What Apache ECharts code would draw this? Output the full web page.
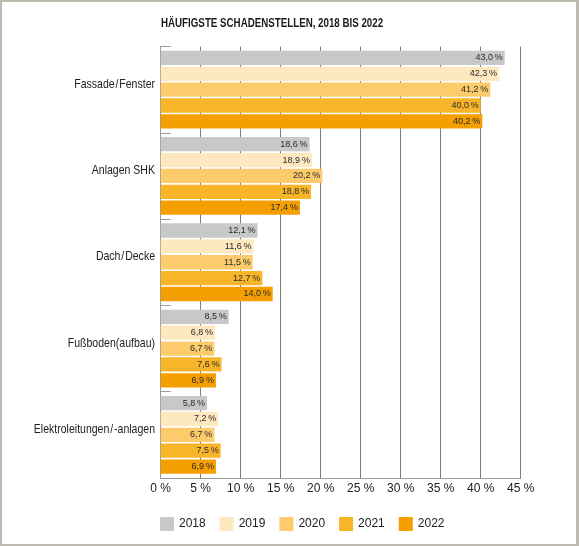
<!DOCTYPE html>
<html lang="de">
<head>
    <meta charset="UTF-8">
    <title>Häufigste Schadenstellen</title>
    <script src="https://cdn.jsdelivr.net/npm/echarts@6/dist/echarts.min.js"></script>
    <style>
        html, body { margin: 0; padding: 0; background: #fff; }
        #chart { position: absolute; left: 0; top: 0; width: 579px; height: 546px; }
        #frame {
            position: absolute; left: 0; top: 0; width: 579px; height: 546px;
            box-sizing: border-box; border: 2px solid #bcbaae; border-right-width: 3px;
            pointer-events: none;
        }
    </style>
</head>
<body>
<div id="chart"></div>
<div id="frame"></div>

<script>
    // Daten
    var categories = ['Fassade\u200a/\u200aFenster', 'Anlagen SHK', 'Dach\u200a/\u200aDecke', 'Fußboden(aufbau)', 'Elektroleitungen\u200a/\u200a-anlagen'];
    var years = ['2018', '2019', '2020', '2021', '2022'];
    var v2018 = [43.0, 18.6, 12.1, 8.5, 5.8];
    var v2019 = [42.3, 18.9, 11.6, 6.8, 7.2];
    var v2020 = [41.2, 20.2, 11.5, 6.7, 6.7];
    var v2021 = [40.0, 18.8, 12.7, 7.6, 7.5];
    var v2022 = [40.2, 17.4, 14.0, 6.9, 6.9];
    var xTicks = [0, 5, 10, 15, 20, 25, 30, 35, 40, 45];
    var titleText = 'HÄUFIGSTE SCHADENSTELLEN, 2018 BIS 2022';

    var values = [v2018, v2019, v2020, v2021, v2022];
    var colors = ['#c8c8ca', '#fde8c0', '#fccb6c', '#f8b529', '#f49e00'];
    var font = '"Liberation Sans", Arial, sans-serif';

    var series = years.map(function (y, i) {
        return {
            name: y,
            type: 'bar',
            data: values[i],
            barWidth: 14.3,
            barGap: '11%',
            itemStyle: { color: colors[i] },
            label: {
                show: true,
                position: 'insideRight',
                distance: 2,
                color: '#2a2a2a',
                fontFamily: font,
                fontSize: 9,
                formatter: function (p) { return p.value.toFixed(1).replace('.', ',') + '\u2009%'; }
            }
        };
    });

    var chart = echarts.init(document.getElementById('chart'));
    chart.setOption({
        animation: false,
        color: colors,
        legend: {
            left: 160,
            top: 517,
            padding: 0,
            itemWidth: 14,
            itemHeight: 14,
            itemGap: 14,
            icon: 'rect',
            textStyle: { fontFamily: font, fontSize: 12, color: '#222' },
            data: years
        },
        grid: { left: 160.7, right: 58.3, top: 46.5, bottom: 68, outerBoundsMode: 'none' },
        xAxis: {
            type: 'value',
            min: xTicks[0],
            max: xTicks[xTicks.length - 1],
            interval: 5,
            axisLine: { show: true, lineStyle: { color: '#999', width: 1 } },
            axisTick: { show: false },
            splitLine: { show: true, lineStyle: { color: '#7d7d7d', width: 1 } },
            axisLabel: {
                margin: 5,
                fontFamily: font,
                fontSize: 12,
                color: '#222',
                formatter: '{value} %'
            }
        },
        yAxis: {
            type: 'category',
            inverse: true,
            data: categories,
            axisLine: { show: true, lineStyle: { color: '#999', width: 1 } },
            axisTick: { show: true, inside: true, length: 10, lineStyle: { color: '#999' } },
            axisLabel: { show: false }
        },
        series: series
    });

    // schmale Schrift nachbilden: Titel und Kategorien als Text mit scaleX
    var graphics = [{
        type: 'text',
        x: 161,
        y: 23.5,
        scaleX: 0.75,
        style: {
            text: titleText,
            font: 'bold 13px ' + font,
            fill: '#1a1a1a',
            textAlign: 'left',
            textVerticalAlign: 'middle'
        }
    }];
    categories.forEach(function (c) {
        graphics.push({
            type: 'text',
            x: 155,
            y: chart.convertToPixel({ yAxisIndex: 0 }, c) - 5.5,
            scaleX: 0.81,
            style: {
                text: c,
                font: '13px ' + font,
                fill: '#222',
                textAlign: 'right',
                textVerticalAlign: 'middle'
            }
        });
    });
    chart.setOption({ graphic: graphics });
</script>
</body>
</html>
